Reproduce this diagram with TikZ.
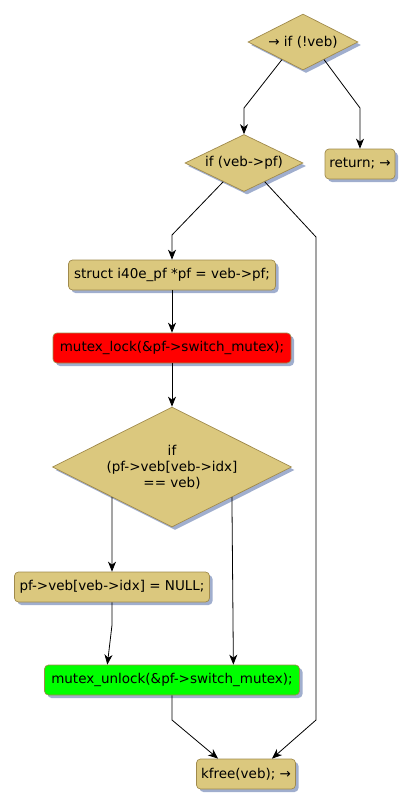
\documentclass[tikz,border=0pt]{standalone}
\usepackage{fontspec}
\setmainfont{DejaVu Sans}
\usetikzlibrary{shapes.geometric, shadows, arrows.meta, calc}
\definecolor{stepfill}{RGB}{219,200,126}
\definecolor{stepline}{RGB}{160,138,76}
\definecolor{shadowblue}{RGB}{120,140,185}
\tikzset{
  shade box/.style={drop shadow={shadow xshift=3pt, shadow yshift=-3pt, fill=shadowblue, opacity=0.7}},
  action/.style={rectangle, rounded corners=4pt, draw=stepline, fill=stepfill, line width=0.7pt,
    minimum height=30pt, inner xsep=3pt, font=\fontsize{13.5}{16}\selectfont, shade box},
  decision/.style={diamond, aspect=2, inner sep=0pt, draw=stepline, fill=stepfill, line width=0.7pt,
    font=\fontsize{13.5}{16}\selectfont, align=center, shade box},
  flow/.style={->, line width=0.8pt}
}
\begin{document}
\begin{tikzpicture}[x=1pt, y=-1pt, >={Stealth[length=10pt, width=8pt, inset=3pt]}]
\useasboundingbox (0,0) rectangle (415,808);
% decisions
\node[decision, minimum width=110pt, minimum height=56pt] (notveb) at (303,42) {→ if (!veb)};
\node[decision, minimum width=118pt, minimum height=57pt] (haspf) at (244,163) {if (veb->pf)};
\node[decision, minimum width=239pt, minimum height=120pt] (isveb) at (172,467) {if\\(pf->veb[veb->idx]\\== veb)};
% actions
\node[action, minimum width=70pt] (ret) at (360,164) {return; →};
\node[action, minimum width=207pt] (getpf) at (172,275) {struct i40e\_pf *pf = veb->pf;};
\node[action, minimum width=238pt, fill=red] (lock) at (172,348) {mutex\_lock(\&pf->switch\_mutex);};
\node[action, minimum width=195pt] (clear) at (112,587) {pf->veb[veb->idx] = NULL;};
\node[action, minimum width=255pt, fill=green] (unlock) at (172,680) {mutex\_unlock(\&pf->switch\_mutex);};
\node[action, minimum width=99pt] (free) at (246,774) {kfree(veb); →};
% connectors
\draw[flow] ($(notveb.south)!0.38!(notveb.west)$) -- (244,108) -- (haspf.north);
\draw[flow] ($(notveb.south)!0.38!(notveb.east)$) -- (360,108) -- (ret.north);
\draw[flow] ($(haspf.south)!0.35!(haspf.west)$) -- (172,235) -- (getpf.north);
\draw[flow] ($(haspf.south)!0.35!(haspf.east)$) -- (316,237) -- (316,720)
  -- ($(free.north west)!0.76!(free.north east)$);
\draw[flow] (getpf) -- (lock);
\draw[flow] (lock) -- (isveb.north);
\draw[flow] (isveb.south west) -- (clear.north);
\draw[flow] (isveb.south east) -- (233,620) -- ($(unlock.north west)!0.74!(unlock.north east)$);
\draw[flow] (clear.south) -- (112,625) -- ($(unlock.north west)!0.247!(unlock.north east)$);
\draw[flow] (unlock.south) -- (172,720) -- ($(free.north west)!0.22!(free.north east)$);
\end{tikzpicture}
\end{document}
